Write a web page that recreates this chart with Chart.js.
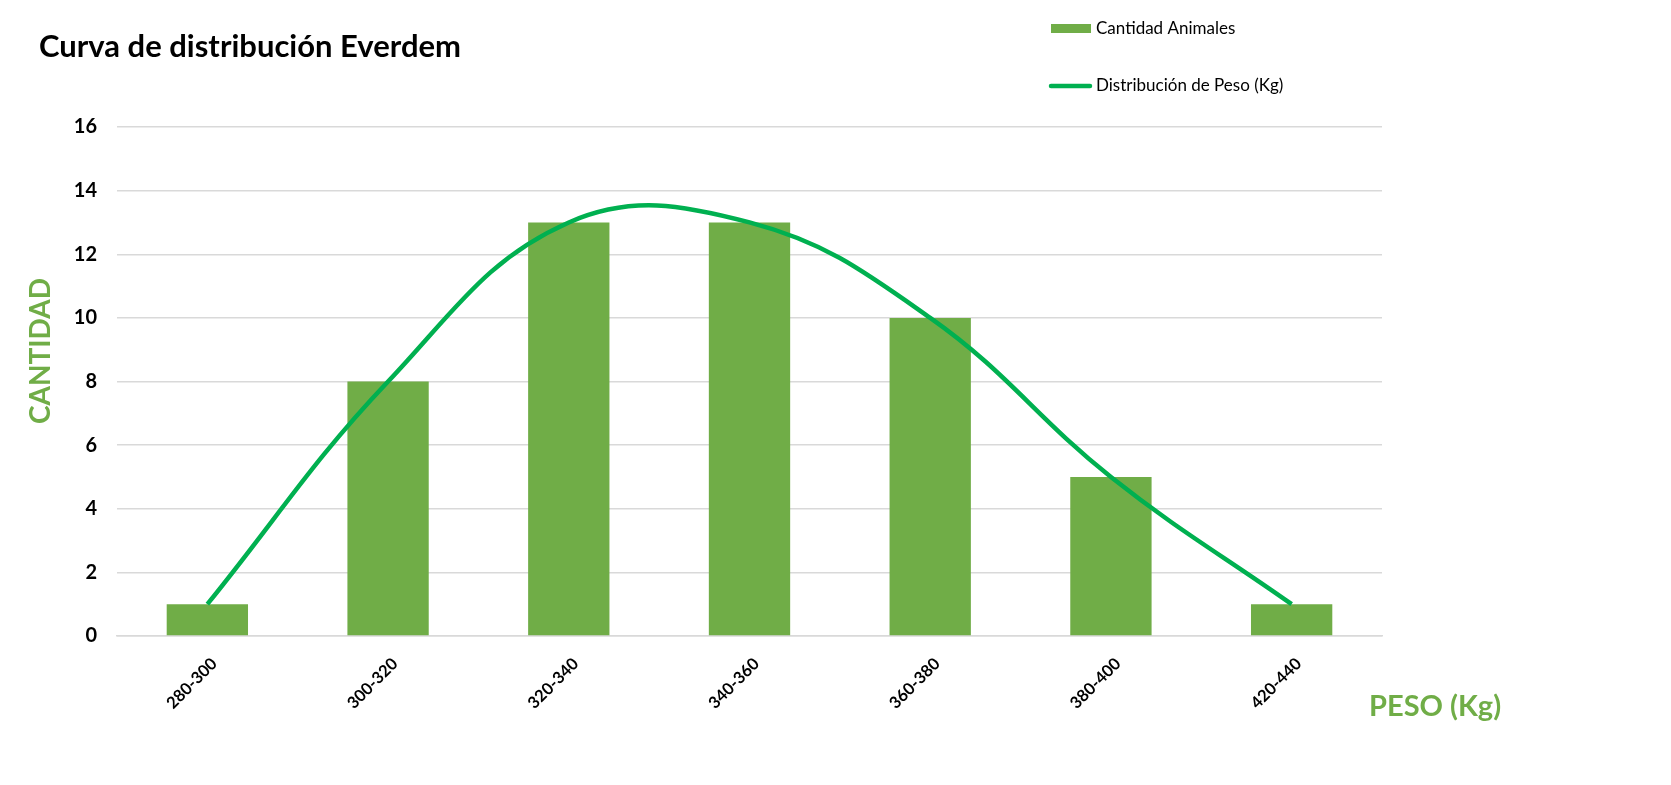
<!DOCTYPE html>
<html>
<head>
<meta charset="utf-8">
<script src="https://cdn.jsdelivr.net/npm/chart.js@4.4.1/dist/chart.umd.min.js"></script>
<style>
  body { margin: 0; background: #fff; }
</style>
</head>
<body>
<canvas id="chart" width="1671" height="785"></canvas>
<script>
var categories = ["280-300", "300-320", "320-340", "340-360", "360-380", "380-400", "420-440"];
var animalCounts = [1, 8, 13, 13, 10, 5, 1];
var weightCurve = [1, 8, 13, 13, 10, 5, 1];
var yMax = 16;
var yStep = 2;

var barColor = "#70AD47";
var lineColor = "#00B050";

// title, legend and axis titles are placed by hand like in the original
var textPlugin = {
  id: "textPlugin",
  afterDraw: function (chart) {
    var ctx = chart.ctx;
    ctx.save();
    ctx.textBaseline = "middle";
    ctx.fillStyle = "#000";
    ctx.font = "bold 31px Lato";
    ctx.fillText("Curva de distribución Everdem", 39, 47);

    // legend
    ctx.fillStyle = barColor;
    ctx.fillRect(1051, 24, 40, 9);
    ctx.strokeStyle = lineColor;
    ctx.lineWidth = 4.5;
    ctx.lineCap = "round";
    ctx.beginPath();
    ctx.moveTo(1051, 86);
    ctx.lineTo(1090, 86);
    ctx.stroke();
    ctx.fillStyle = "#000";
    ctx.font = "17px Lato";
    ctx.fillText(chart.data.datasets[1].label, 1096, 29);
    ctx.fillText(chart.data.datasets[0].label, 1096, 86);

    // axis titles
    ctx.fillStyle = barColor;
    ctx.font = "bold 29px Lato";
    ctx.fillText("PESO (Kg)", 1369, 707);
    ctx.font = "bold 28px Lato";
    ctx.translate(41, 351);
    ctx.rotate(-Math.PI / 2);
    ctx.textAlign = "center";
    ctx.fillText("CANTIDAD", 0, 0);
    ctx.restore();
  }
};

new Chart(document.getElementById("chart"), {
  type: "bar",
  data: {
    labels: categories,
    datasets: [
      {
        type: "line",
        label: "Distribución de Peso (Kg)",
        data: weightCurve,
        borderColor: lineColor,
        borderWidth: 4.5,
        tension: 0.4,
        pointRadius: 0,
        fill: false,
        order: 0,
      },
      {
        type: "bar",
        label: "Cantidad Animales",
        data: animalCounts,
        backgroundColor: barColor,
        categoryPercentage: 1,
        barPercentage: 0.45,
        order: 1,
      },
    ],
  },
  options: {
    responsive: false,
    animation: false,
    layout: { padding: { left: 0, right: 289, top: 127, bottom: 0 } },
    plugins: {
      legend: { display: false },
      title: { display: false },
      tooltip: { enabled: false },
    },
    scales: {
      x: {
        grid: { display: false },
        border: { color: "#D9D9D9", width: 1.5 },
        ticks: {
          color: "#000",
          font: { family: "Lato", weight: "bold", size: 16.5 },
          minRotation: 45,
          maxRotation: 45,
          padding: 10,
          labelOffset: 7,
        },
        afterFit: function (s) { s.height = 149; },
      },
      y: {
        min: 0,
        max: yMax,
        ticks: {
          stepSize: yStep,
          color: "#000",
          font: { family: "Lato", weight: "bold", size: 20 },
          padding: 20,
        },
        grid: { color: "#D9D9D9", lineWidth: 1.5, drawTicks: false },
        border: { display: false },
        afterFit: function (s) { s.width = 117; },
      },
    },
  },
  plugins: [textPlugin],
});
</script>
</body>
</html>
